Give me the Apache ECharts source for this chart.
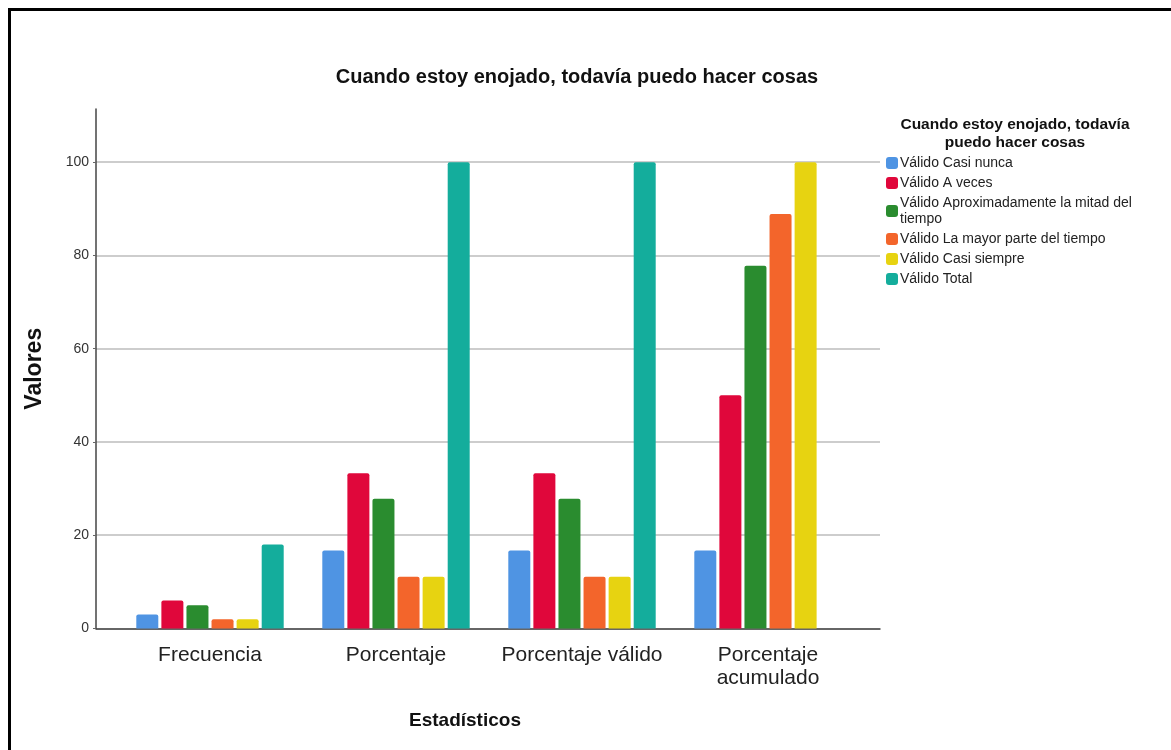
<!DOCTYPE html>
<html>
<head>
<meta charset="utf-8">
<script src="https://cdn.jsdelivr.net/npm/echarts@6/dist/echarts.min.js"></script>
<style>
  html, body { margin: 0; padding: 0; background: #fff; }
  #chart { position: absolute; left: 0; top: 0; width: 1171px; height: 750px; }
  #frame { position: absolute; left: 8px; top: 8px; width: 1163px; height: 742px;
           border-left: 3px solid #000; border-top: 3px solid #000; pointer-events: none; }
</style>
</head>
<body>
<div id="chart"></div>
<div id="frame"></div>
<script>
// datos
var categorias = ['Frecuencia', 'Porcentaje', 'Porcentaje válido', 'Porcentaje\nacumulado'];
var seriesNames = [
    'Válido Casi nunca',
    'Válido A veces',
    'Válido Aproximadamente la mitad del tiempo',
    'Válido La mayor parte del tiempo',
    'Válido Casi siempre',
    'Válido Total'
];
var casiNunca   = [3, 16.7, 16.7, 16.7];
var aVeces      = [6, 33.3, 33.3, 50.0];
var mitad       = [5, 27.8, 27.8, 77.8];
var mayorParte  = [2, 11.1, 11.1, 88.9];
var casiSiempre = [2, 11.1, 11.1, 100.0];
var total       = [18, 100, 100, null];
var yTicks = [0, 20, 40, 60, 80, 100];

var colores = ['#4f94e3', '#e0073b', '#2a8c2f', '#f3652b', '#e7d311', '#14ad9c'];
var valores = [casiNunca, aVeces, mitad, mayorParte, casiSiempre, total];

var FONT = 'Liberation Sans, Arial, sans-serif';
var yMax = 111.4;

var chart = echarts.init(document.getElementById('chart'));

var series = seriesNames.map(function (name, i) {
    return {
        name: name,
        type: 'bar',
        xAxisIndex: 1,
        yAxisIndex: 1,
        barWidth: 22,
        barGap: '14%',
        itemStyle: { color: colores[i], borderRadius: [2, 2, 0, 0] },
        data: valores[i]
    };
});

var option = {
    animation: false,
    backgroundColor: '#fff',
    title: [{
        text: 'Cuando estoy enojado, todavía puedo hacer cosas',
        left: 572,
        top: 62,
        textAlign: 'center',
        textStyle: { fontFamily: FONT, fontSize: 20, fontWeight: 'bold', color: '#111' }
    }, {
        text: 'Cuando estoy enojado, todavía\npuedo hacer cosas',
        left: 1010,
        top: 111,
        textAlign: 'center',
        textStyle: { fontFamily: FONT, fontSize: 15.5, fontWeight: 'bold', color: '#111', lineHeight: 18 }
    }],
    legend: {
        orient: 'vertical',
        left: 881,
        top: 150,
        itemWidth: 12,
        itemHeight: 12,
        itemGap: 4,
        icon: 'roundRect',
        data: seriesNames,
        formatter: function (name) {
            return name.replace('mitad del tiempo', 'mitad del\ntiempo');
        },
        textStyle: { fontFamily: FONT, fontSize: 14, color: '#222', lineHeight: 16, padding: [0, 0, 0, -3] }
    },
    grid: [
        { left: 96, top: 109, width: 784, height: 519.5 },
        { left: 117, top: 109, width: 744, height: 519.5 }
    ],
    xAxis: [{
        type: 'value',
        gridIndex: 0,
        min: 0,
        max: 1,
        axisLine: { show: true, lineStyle: { color: '#444', width: 1.5 } },
        axisTick: { show: false },
        axisLabel: { show: false },
        splitLine: { show: false },
        name: 'Estadísticos',
        nameLocation: 'middle',
        nameGap: 83,
        nameTextStyle: { fontFamily: FONT, fontSize: 19, fontWeight: 'bold', color: '#111', padding: [0, 46, 0, 0] }
    }, {
        type: 'category',
        gridIndex: 1,
        data: categorias,
        axisLine: { show: false },
        axisTick: { show: false },
        axisLabel: { interval: 0, hideOverlap: false, fontFamily: FONT, fontSize: 21, color: '#222', margin: 15, lineHeight: 23 }
    }],
    yAxis: [{
        type: 'value',
        gridIndex: 0,
        min: 0,
        max: yMax,
        interval: 20,
        axisLine: { show: true, lineStyle: { color: '#444', width: 1.5 } },
        axisTick: { show: true, length: 3, lineStyle: { color: '#666' }, customValues: yTicks },
        axisLabel: { fontFamily: FONT, fontSize: 14, color: '#333', margin: 7, customValues: yTicks },
        splitLine: { show: true, lineStyle: { color: '#bdbdbd', width: 1.5 } },
        name: 'Valores',
        nameLocation: 'middle',
        nameGap: 50,
        nameTextStyle: { fontFamily: FONT, fontSize: 23, fontWeight: 'bold', color: '#111' }
    }, {
        type: 'value',
        gridIndex: 1,
        min: 0,
        max: yMax,
        show: false
    }],
    series: series
};

chart.setOption(option);
</script>
</body>
</html>
